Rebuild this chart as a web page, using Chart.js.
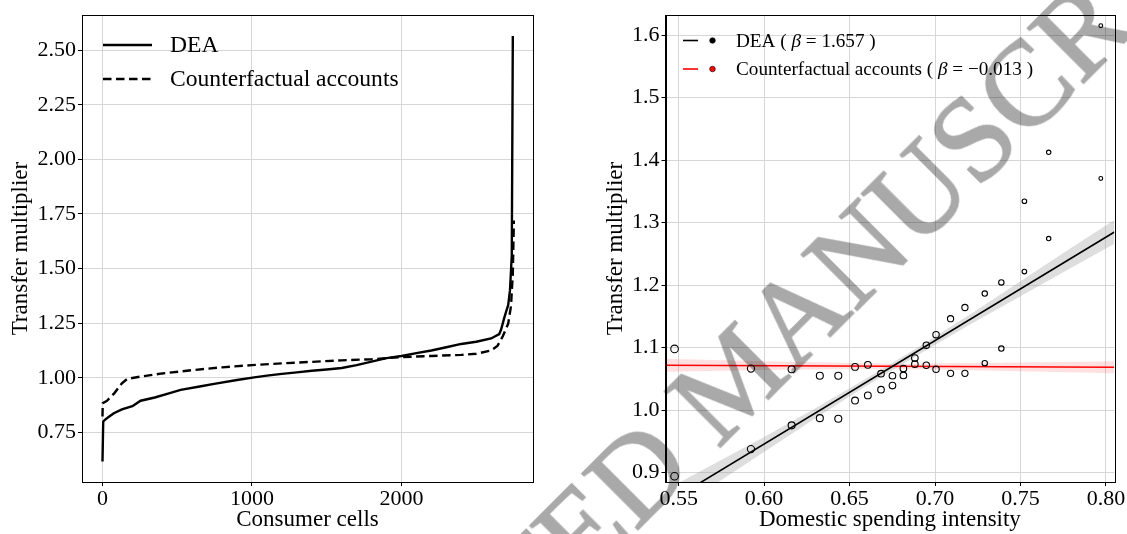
<!DOCTYPE html>
<html>
<head>
<meta charset="utf-8">
<script src="https://cdn.jsdelivr.net/npm/chart.js@4.4.1/dist/chart.umd.min.js"></script>
<style>
  html, body { margin: 0; padding: 0; background: #fff; }
  #wrap { position: relative; width: 1127px; height: 534px; overflow: hidden; }
  #c1 { position: absolute; left: 0; top: 0; }
  #c2 { position: absolute; left: 560px; top: 0; }
  #stamp {
    position: absolute; left: 230px; top: 821px;
    font: 120px "Liberation Serif", serif; line-height: 120px;
    color: #a9a9a9; -webkit-text-stroke: 1.6px #a9a9a9; white-space: nowrap;
    transform-origin: 0 50%; transform: rotate(-45deg);
    mix-blend-mode: multiply; pointer-events: none;
  }
</style>
</head>
<body>
<div id="wrap">
  <canvas id="c1" width="560" height="534"></canvas>
  <canvas id="c2" width="567" height="534"></canvas>
  <div id="stamp">ACCEPTED MANUSCRIPT</div>
</div>
<script>
// left panel: sorted transfer multipliers
const deaCells = [0, 5, 20, 50, 76, 130, 200, 255, 350, 450, 523, 650, 747, 900, 1015, 1100, 1200, 1300, 1400, 1500, 1600, 1700, 1800, 1900, 2000, 2100, 2200, 2300, 2400, 2500, 2600, 2654, 2666, 2690, 2714, 2726, 2738, 2745];
const deaMult  = [0.617, 0.80, 0.81, 0.825, 0.838, 0.855, 0.87, 0.895, 0.91, 0.93, 0.945, 0.96, 0.972, 0.99, 1.002, 1.01, 1.018, 1.025, 1.032, 1.038, 1.045, 1.058, 1.074, 1.09, 1.10, 1.113, 1.125, 1.14, 1.155, 1.165, 1.18, 1.20, 1.22, 1.28, 1.333, 1.40, 1.56, 2.565];
const cfCells = [0, 2, 30, 80, 130, 166, 250, 400, 600, 800, 1000, 1200, 1400, 1600, 1800, 2000, 2200, 2400, 2500, 2600, 2642, 2678, 2714, 2733, 2745, 2752];
const cfMult  = [0.823, 0.884, 0.895, 0.93, 0.975, 0.995, 1.005, 1.02, 1.035, 1.048, 1.058, 1.066, 1.073, 1.08, 1.085, 1.095, 1.10, 1.105, 1.11, 1.125, 1.146, 1.19, 1.248, 1.33, 1.48, 1.72];
const cellTicks = [0, 1000, 2000];
const multTicks = [0.75, 1.00, 1.25, 1.50, 1.75, 2.00, 2.25, 2.50];

// right panel: multiplier vs domestic spending intensity
const intensity = [0.5476, 0.5923, 0.6161, 0.6326, 0.6434, 0.6532, 0.6607, 0.6684, 0.6751, 0.6815, 0.6882, 0.6949, 0.7006, 0.7091, 0.7175, 0.7291, 0.7388, 0.7523, 0.7665, 0.7970];
const deaPts = [0.894, 0.9375, 0.9755, 0.987, 0.986, 1.0152, 1.0234, 1.0326, 1.0391, 1.0554, 1.0832, 1.1038, 1.1207, 1.1462, 1.1641, 1.1864, 1.2043, 1.3342, 1.4125, 1.6152];
const cfPts  = [1.0978, 1.0663, 1.0652, 1.0549, 1.0549, 1.069, 1.0723, 1.0582, 1.0549, 1.0663, 1.0734, 1.0717, 1.0652, 1.0587, 1.0587, 1.075, 1.0984, 1.2217, 1.2745, 1.3707];
const markerRadius = [3.8, 3.6, 3.5, 3.5, 3.5, 3.4, 3.4, 3.3, 3.3, 3.3, 3.3, 3.2, 3.2, 3.1, 3.1, 2.7, 2.7, 2.3, 2.2, 1.9];
const fitX    = [0.5423, 0.805];
const deaFit  = [0.850, 1.285];
const cfFit   = [1.0717, 1.0685];
const bandX   = [0.5423, 0.57, 0.60, 0.63, 0.66, 0.69, 0.72, 0.75, 0.78, 0.805];
const deaLo   = [0.828, 0.879, 0.933, 0.987, 1.039, 1.088, 1.136, 1.182, 1.228, 1.266];
const deaHi   = [0.872, 0.913, 0.957, 1.003, 1.051, 1.100, 1.152, 1.206, 1.260, 1.304];
const cfBandX = [0.5423, 0.60, 0.675, 0.75, 0.805];
const cfLo    = [1.0612, 1.0639, 1.0660, 1.0620, 1.0590];
const cfHi    = [1.0822, 1.0779, 1.0740, 1.0760, 1.0780];
const intensityTicks = [0.55, 0.60, 0.65, 0.70, 0.75, 0.80];
const multTicks2 = [0.9, 1.0, 1.1, 1.2, 1.3, 1.4, 1.5, 1.6];

const serif = '"Liberation Serif", "DejaVu Serif", serif';
Chart.defaults.font.family = serif;
Chart.defaults.color = '#000';

const pairs = (xs, ys) => xs.map((x, i) => ({ x: x, y: ys[i] }));

// box round the plot area
const frame = {
  id: 'frame',
  afterDatasetsDraw(chart) {
    const a = chart.chartArea, ctx = chart.ctx;
    ctx.save();
    ctx.strokeStyle = '#000';
    ctx.lineWidth = 1;
    ctx.strokeRect(Math.round(a.left) + 0.5, Math.round(a.top) + 0.5, Math.round(a.right - a.left), Math.round(a.bottom - a.top));
    ctx.restore();
  }
};

// hand drawn legend (line, optional dot, text with italic beta)
const key = {
  id: 'key',
  afterDraw(chart, args, o) {
    const ctx = chart.ctx;
    ctx.save();
    o.rows.forEach((row, i) => {
      const y = o.y + i * o.gap;
      ctx.strokeStyle = row.color;
      ctx.lineWidth = o.width;
      ctx.setLineDash(row.dash || []);
      ctx.beginPath();
      ctx.moveTo(o.lineX[0], y);
      ctx.lineTo(o.lineX[1], y);
      ctx.stroke();
      ctx.setLineDash([]);
      if (o.dotX) {
        ctx.beginPath();
        ctx.arc(o.dotX, y, 2.8, 0, Math.PI * 2);
        ctx.fillStyle = row.color;
        ctx.fill();
        ctx.lineWidth = 0.6;
        ctx.strokeStyle = '#000';
        ctx.stroke();
      }
      let x = o.textX;
      ctx.textBaseline = 'middle';
      ctx.fillStyle = '#000';
      row.parts.forEach(p => {
        ctx.font = (p[1] ? 'italic ' : '') + o.size + 'px ' + serif;
        ctx.fillText(p[0], x, y + 1);
        x += ctx.measureText(p[0]).width;
      });
    });
    ctx.restore();
  }
};

function axis(min, max, tickList, fmt, title, fit, horiz, titlePad) {
  return {
    type: 'linear', min: min, max: max,
    afterBuildTicks: s => { s.ticks = tickList.map(v => ({ value: v })); },
    afterFit: s => { if (horiz) s.height = fit; else s.width = fit; },
    ticks: { font: { size: 22 }, padding: horiz ? 0 : 2, maxRotation: 0, autoSkip: false, callback: fmt },
    grid: { color: '#d6d6d6', lineWidth: 1, tickColor: '#000', tickLength: 4 },
    border: { color: '#000' },
    title: { display: true, text: title, font: { size: 23 }, padding: titlePad }
  };
}

new Chart(document.getElementById('c1'), {
  type: 'line',
  data: {
    datasets: [
      { label: 'DEA', data: pairs(deaCells, deaMult), borderColor: '#000', borderWidth: 2.4, pointRadius: 0, tension: 0 },
      { label: 'Counterfactual accounts', data: pairs(cfCells, cfMult), borderColor: '#000', borderWidth: 2.4, borderDash: [8.5, 4.5], pointRadius: 0, tension: 0 }
    ]
  },
  options: {
    responsive: false, animation: false, devicePixelRatio: 1,
    layout: { padding: { left: 0, right: 27, top: 14, bottom: 0 } },
    plugins: {
      legend: { display: false }, tooltip: { enabled: false },
      key: {
        lineX: [103, 152], textX: 170, y: 45, gap: 34, size: 23.6, width: 2.4,
        rows: [
          { color: '#000', parts: [['DEA', false]] },
          { color: '#000', dash: [8.5, 4.5], parts: [['Counterfactual accounts', false]] }
        ]
      }
    },
    scales: {
      x: axis(-137, 2880, cellTicks, v => String(v), 'Consumer cells', 52, true, { top: 0, bottom: 0 }),
      y: axis(0.523, 2.66, multTicks, v => v.toFixed(2), 'Transfer multiplier', 82, false, { top: 7, bottom: 0 })
    }
  },
  plugins: [frame, key]
});

new Chart(document.getElementById('c2'), {
  type: 'scatter',
  data: {
    datasets: [
      { label: 'dea hi', data: pairs(bandX, deaHi), showLine: true, borderWidth: 0, pointRadius: 0, fill: false, order: 5 },
      { label: 'dea lo', data: pairs(bandX, deaLo), showLine: true, borderWidth: 0, pointRadius: 0, fill: '-1', backgroundColor: 'rgba(160,160,160,0.35)', order: 5 },
      { label: 'cf hi', data: pairs(cfBandX, cfHi), showLine: true, borderWidth: 0, pointRadius: 0, fill: false, order: 5 },
      { label: 'cf lo', data: pairs(cfBandX, cfLo), showLine: true, borderWidth: 0, pointRadius: 0, fill: '-1', backgroundColor: 'rgba(255,0,0,0.12)', order: 5 },
      { label: 'DEA fit', data: pairs(fitX, deaFit), showLine: true, borderColor: '#000', borderWidth: 1.6, pointRadius: 0, order: 2 },
      { label: 'CF fit', data: pairs(fitX, cfFit), showLine: true, borderColor: '#ff0000', borderWidth: 1.6, pointRadius: 0, order: 2 },
      { label: 'DEA', data: pairs(intensity, deaPts), pointRadius: markerRadius, borderColor: '#000', backgroundColor: 'rgba(0,0,0,0)', borderWidth: 1.1, order: 0 },
      { label: 'Counterfactual accounts', data: pairs(intensity, cfPts), pointRadius: markerRadius, borderColor: '#000', backgroundColor: 'rgba(0,0,0,0)', borderWidth: 1.1, order: 0 }
    ]
  },
  options: {
    responsive: false, animation: false, devicePixelRatio: 1,
    layout: { padding: { left: 0, right: 12.7, top: 14, bottom: 0 } },
    plugins: {
      legend: { display: false }, tooltip: { enabled: false },
      key: {
        lineX: [123, 138], dotX: 152.5, textX: 176, y: 40.5, gap: 28.5, size: 19.2, width: 1.6,
        rows: [
          { color: '#000', parts: [['DEA ( ', false], ['\u03B2', true], [' = 1.657 )', false]] },
          { color: '#ff0000', parts: [['Counterfactual accounts ( ', false], ['\u03B2', true], [' = \u22120.013 )', false]] }
        ]
      }
    },
    scales: {
      x: axis(0.5423, 0.8049, intensityTicks, v => v.toFixed(2), 'Domestic spending intensity', 52, true, { top: 0, bottom: 0 }),
      y: axis(0.8848, 1.632, multTicks2, v => v.toFixed(1), 'Transfer multiplier', 105.5, false, { top: 42, bottom: 0 })
    }
  },
  plugins: [frame, key]
});
</script>
</body>
</html>
